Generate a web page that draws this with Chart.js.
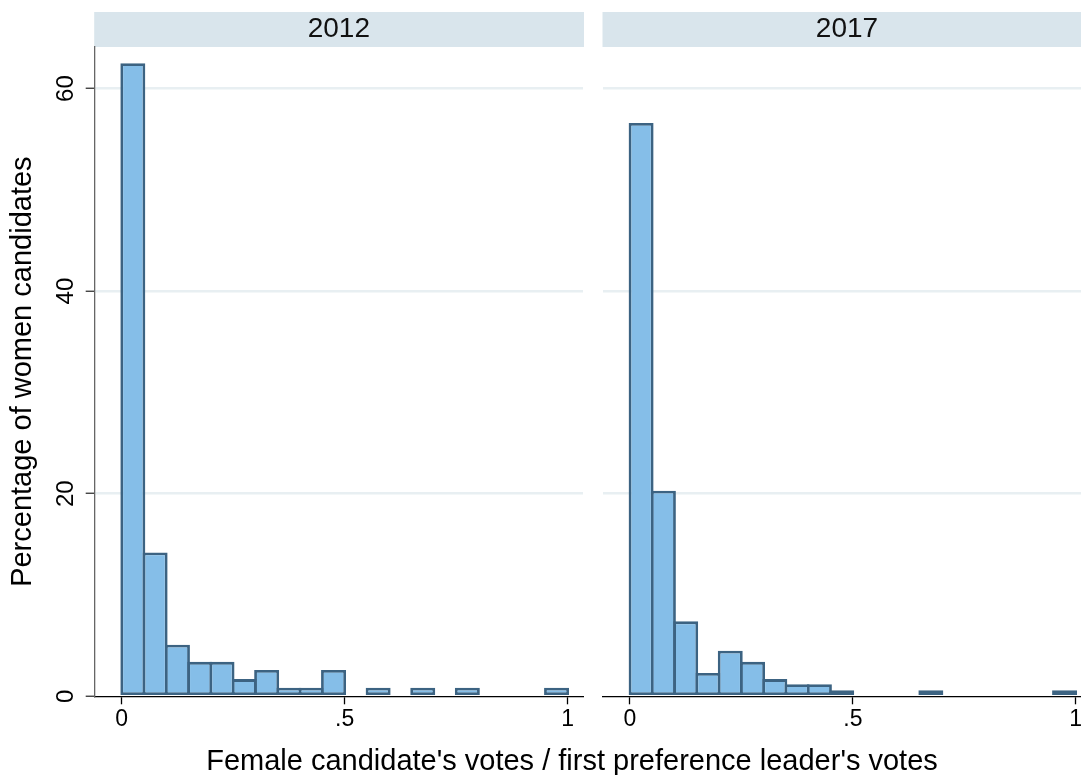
<!DOCTYPE html>
<html>
<head>
<meta charset="utf-8">
<title>Female candidates' vote share, 2012 and 2017</title>
<script src="https://cdn.jsdelivr.net/npm/chart.js@4.4.1/dist/chart.umd.min.js"></script>
<style>
  html, body { margin: 0; padding: 0; background: #fff; overflow: hidden; }
  body { width: 1081px; height: 775px; position: relative; }
  .panel { position: absolute; top: 0; height: 775px; }
  #left { left: 0; width: 590px; }
  #right { left: 590px; width: 501px; }
  #xtitle {
    position: absolute; left: 0; width: 1144px; top: 746px;
    text-align: center; white-space: nowrap; color: #000;
    font: 29px/29px "Liberation Sans", Arial, sans-serif;
  }
</style>
</head>
<body>
<div class="panel" id="left"><canvas id="chart2012"></canvas></div>
<div class="panel" id="right"><canvas id="chart2017"></canvas></div>
<div id="xtitle">Female candidate's votes / first preference leader's votes</div>

<script>
// histogram bins of width .05, given by their midpoints
const binCenters = [0.025, 0.075, 0.125, 0.175, 0.225, 0.275, 0.325, 0.375, 0.425, 0.475,
                    0.525, 0.575, 0.625, 0.675, 0.725, 0.775, 0.825, 0.875, 0.925, 0.975];

// percentage of women candidates in each bin
const pct2012 = [62.5, 14.2, 5.1, 3.4, 3.4, 1.7, 2.6, 0.85, 0.85, 2.6,
                 0, 0.85, 0, 0.85, 0, 0.85, 0, 0, 0, 0.85];
const pct2017 = [56.6, 20.3, 7.4, 2.3, 4.5, 3.4, 1.7, 1.2, 1.2, 0.6,
                 0, 0, 0, 0.6, 0, 0, 0, 0, 0, 0.6];

const xTicks = [0, 0.5, 1];
const yTicks = [0, 20, 40, 60];

const FONT = '"Liberation Sans", Arial, sans-serif';
const barFill = '#85bee8';
const barLine = '#3c6382';
const gridColor = '#e8eff2';

// grey strip with the year above each panel
const stripPlugin = {
  id: 'strip',
  beforeDraw(chart, args, opts) {
    const { ctx, chartArea } = chart;
    ctx.save();
    ctx.fillStyle = '#d9e5ec';
    ctx.fillRect(chartArea.left - 0.5, 12, chartArea.right - chartArea.left + 1.5, 35);
    ctx.fillStyle = '#111';
    ctx.font = '28px ' + FONT;
    ctx.textAlign = 'center';
    ctx.textBaseline = 'alphabetic';
    ctx.fillText(opts.text, (chartArea.left + chartArea.right) / 2, 37);
    ctx.restore();
  }
};

// y tick labels are drawn turned on their side
const sideLabels = {
  id: 'sideLabels',
  afterDraw(chart, args, opts) {
    if (!opts.show) return;
    const { ctx } = chart;
    const y = chart.scales.y;
    ctx.save();
    ctx.fillStyle = '#000';
    ctx.font = '24px ' + FONT;
    ctx.textAlign = 'center';
    ctx.textBaseline = 'alphabetic';
    y.ticks.forEach(t => {
      ctx.save();
      ctx.translate(73, y.getPixelForValue(t.value));
      ctx.rotate(-Math.PI / 2);
      ctx.fillText(String(t.value), 0, 0);
      ctx.restore();
    });
    ctx.restore();
  }
};

function makePanel(id, values, year, first) {
  const ctx = document.getElementById(id).getContext('2d');
  return new Chart(ctx, {
    type: 'bar',
    data: {
      datasets: [{
        data: binCenters.map((x, i) => ({ x: x, y: values[i] })),
        backgroundColor: barFill,
        borderColor: barLine,
        borderWidth: 2.8,
        borderSkipped: false,
        barPercentage: 1.12,
        categoryPercentage: 1
      }]
    },
    options: {
      responsive: true,
      maintainAspectRatio: false,
      animation: false,
      layout: { padding: { top: 47, right: first ? 7 : 0, bottom: 0, left: 0 } },
      plugins: {
        legend: { display: false },
        tooltip: { enabled: false },
        strip: { text: year },
        sideLabels: { show: first }
      },
      scales: {
        x: {
          type: 'linear',
          offset: false,
          min: -0.0605,
          max: 1.0343,
          afterFit: s => { s.height = 78.7; },
          afterBuildTicks: s => { s.ticks = xTicks.map(v => ({ value: v })); },
          grid: { offset: false, drawOnChartArea: false, drawTicks: true, tickLength: 8, tickColor: '#000', tickWidth: 1.3 },
          border: { display: true, color: '#000', width: 1.3 },
          ticks: {
            padding: 2,
            color: '#000',
            font: { family: FONT, size: 23 },
            maxRotation: 0,
            callback: v => v === 0 ? '0' : v === 1 ? '1' : String(v).replace(/^0/, '')
          }
        },
        y: {
          type: 'linear',
          min: 0,
          max: 64.1,
          afterFit: s => { s.width = first ? 94.7 : 13; },
          afterBuildTicks: s => { s.ticks = yTicks.map(v => ({ value: v })); },
          grid: {
            color: c => c.tick && c.tick.value === 0 ? 'rgba(0,0,0,0)' : gridColor,
            lineWidth: 2.5,
            drawTicks: first,
            tickLength: 9,
            tickColor: '#333',
            tickWidth: 1.3
          },
          border: { display: first, color: '#666', width: 1.3 },
          ticks: { display: first, color: 'rgba(0,0,0,0)', font: { family: FONT, size: 22 } },
          title: {
            display: first,
            text: 'Percentage of women candidates',
            color: '#000',
            font: { family: FONT, size: 29 },
            padding: { top: 6, bottom: 0 }
          }
        }
      }
    },
    plugins: [stripPlugin, sideLabels]
  });
}

const chart2012 = makePanel('chart2012', pct2012, '2012', true);
const chart2017 = makePanel('chart2017', pct2017, '2017', false);
</script>
</body>
</html>
